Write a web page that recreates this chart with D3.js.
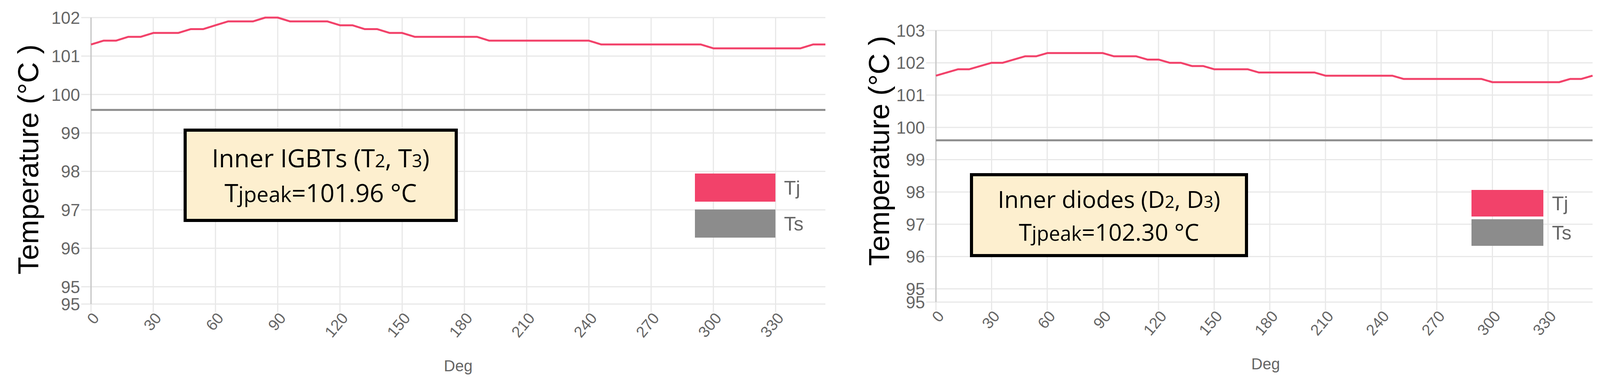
<!DOCTYPE html>
<html><head><meta charset="utf-8">
<script src="https://cdn.jsdelivr.net/npm/d3@7"></script>
<style>body{margin:0;background:#fff}svg{display:block}</style>
</head><body>
<svg id="c" width="4103" height="980"></svg>
<script>
const degrees = d3.range(0, 355, 6);
const tjLeft = [101.3,101.4,101.4,101.5,101.5,101.6,101.6,101.6,101.7,101.7,101.8,101.9,101.9,101.9,102.0,102.0,101.9,101.9,101.9,101.9,101.8,101.8,101.7,101.7,101.6,101.6,101.5,101.5,101.5,101.5,101.5,101.5,101.4,101.4,101.4,101.4,101.4,101.4,101.4,101.4,101.4,101.3,101.3,101.3,101.3,101.3,101.3,101.3,101.3,101.3,101.2,101.2,101.2,101.2,101.2,101.2,101.2,101.2,101.3,101.3];
const tsLeft = degrees.map(()=>99.6);
const tjRight = [101.6,101.7,101.8,101.8,101.9,102.0,102.0,102.1,102.2,102.2,102.3,102.3,102.3,102.3,102.3,102.3,102.2,102.2,102.2,102.1,102.1,102.0,102.0,101.9,101.9,101.8,101.8,101.8,101.8,101.7,101.7,101.7,101.7,101.7,101.7,101.6,101.6,101.6,101.6,101.6,101.6,101.6,101.5,101.5,101.5,101.5,101.5,101.5,101.5,101.5,101.4,101.4,101.4,101.4,101.4,101.4,101.4,101.5,101.5,101.6];
const tsRight = degrees.map(()=>99.6);
const xTicks = [0,30,60,90,120,150,180,210,240,270,300,330];
const yTicksLeft = [94.55,95,96,97,98,99,100,101,102];
const yTicksRight = [94.59,95,96,97,98,99,100,101,102,103];
const seriesNames = ["Tj","Ts"];
const colors = {Tj:"#f2426a", Ts:"#8c8c8c"};

const svg = d3.select("#c");

function panel(o){
  const g = svg.append("g");
  const x = d3.scaleLinear().domain([0,354]).range([o.x0,o.x1]);
  const y = d3.scaleLinear().domain(o.ydom).range([o.yb,o.yt]);
  // grid
  g.append("g").selectAll("line").data(o.yTicks).join("line")
    .attr("x1",o.x0-25).attr("x2",o.x1).attr("y1",d=>y(d)).attr("y2",d=>y(d))
    .attr("stroke","#e8e8e8").attr("stroke-width",3);
  g.append("g").selectAll("line").data(xTicks).join("line")
    .attr("x1",d=>x(d)).attr("x2",d=>x(d)).attr("y1",o.yt).attr("y2",o.yb+20)
    .attr("stroke","#e8e8e8").attr("stroke-width",3);
  g.append("line").attr("x1",o.x0).attr("x2",o.x0).attr("y1",o.yt).attr("y2",o.yb)
    .attr("stroke","#c4c4c4").attr("stroke-width",3);
  // y labels
  g.append("g").selectAll("text").data(o.yTicks).join("text")
    .attr("x",o.x0-28).attr("y",d=>y(d)).attr("dy","0.36em").attr("text-anchor","end")
    .attr("font-family","Liberation Sans Narrow, Liberation Sans, sans-serif").attr("font-size",44).attr("fill","#666")
    .text(d=>d3.format(".0f")(d));
  // x labels
  g.append("g").selectAll("text").data(xTicks).join("text")
    .attr("transform",d=>`translate(${x(d)+12},${o.yb+28}) rotate(-50)`)
    .attr("text-anchor","end").attr("dy","0.35em")
    .attr("font-family","Liberation Sans Narrow, Liberation Sans, sans-serif").attr("font-size",40).attr("fill","#666")
    .text(d=>d);
  g.append("text").attr("x",o.degX).attr("y",o.degY).attr("text-anchor","middle")
    .attr("font-family","Liberation Sans Narrow, Liberation Sans, sans-serif").attr("font-size",40).attr("fill","#666").text("Deg");
  g.append("text").attr("transform",`translate(${o.titleX},${o.titleY}) rotate(-90)`)
    .attr("text-anchor","middle").attr("dy","0.35em")
    .attr("font-family","Liberation Sans, Arial, sans-serif").attr("font-size",74).attr("fill","#000")
    .text("Temperature (°C )");
  // lines
  const line = d3.line().x((d,i)=>x(degrees[i])).y(d=>y(d));
  g.append("path").attr("d",line(o.ts)).attr("fill","none").attr("stroke",colors.Ts).attr("stroke-width",5);
  g.append("path").attr("d",line(o.tj)).attr("fill","none").attr("stroke",colors.Tj).attr("stroke-width",5).attr("stroke-linejoin","round");
  // annotation
  const b = o.box;
  g.append("rect").attr("x",b.x).attr("y",b.y).attr("width",b.w).attr("height",b.h)
    .attr("fill","#fdefcf").attr("stroke","#000").attr("stroke-width",8);
  const cx = b.x+b.w/2;
  const t1 = g.append("text").attr("x",cx).attr("y",b.l1).attr("text-anchor","middle")
    .attr("font-family","Open Sans, Liberation Sans, sans-serif").attr("font-size",b.fs).attr("fill","#000");
  b.parts.forEach(p=>t1.append("tspan").attr("font-size",p[1]?b.fs*0.72:b.fs).text(p[0]));
  const t2 = g.append("text").attr("x",cx).attr("y",b.l2).attr("text-anchor","middle")
    .attr("font-family","Open Sans, Liberation Sans, sans-serif").attr("font-size",b.fs).attr("fill","#000");
  t2.append("tspan").text("T");
  t2.append("tspan").attr("font-size",b.fs*0.85).text("jpeak");
  t2.append("tspan").text(b.peak);
  // legend
  const L = o.leg;
  seriesNames.forEach((s,i)=>{
    g.append("rect").attr("x",L.x).attr("y",L.y+i*L.dy).attr("width",L.w).attr("height",L.h).attr("fill",colors[s]);
    g.append("text").attr("x",L.x+L.w+22).attr("y",L.y+i*L.dy+L.h/2).attr("dy","0.35em")
      .attr("font-family","Liberation Sans Narrow, Liberation Sans, sans-serif").attr("font-size",50).attr("fill","#666").text(s);
  });
}

panel({x0:233,x1:2113,yt:45,yb:778,ydom:[94.55,102],yTicks:yTicksLeft,tj:tjLeft,ts:tsLeft,
  degX:1173,degY:950,titleX:72,titleY:408,
  box:{x:474,y:333,w:694,h:231,l1:428,l2:517,fs:64,peak:"=101.96 °C",
    parts:[["Inner IGBTs (T",0],["2",1],[", T",0],["3",1],[")",0]]},
  leg:{x:1779,y:444,w:206,h:72,dy:92}});
panel({x0:2396,x1:4077,yt:78,yb:773,ydom:[94.59,103],yTicks:yTicksRight,tj:tjRight,ts:tsRight,
  degX:3240,degY:945,titleX:2250,titleY:386,
  box:{x:2487,y:447,w:704,h:207,l1:532,l2:616,fs:60,peak:"=102.30 °C",
    parts:[["Inner diodes (D",0],["2",1],[", D",0],["3",1],[")",0]]},
  leg:{x:3767,y:486,w:184,h:68,dy:75}});
</script>
</body></html>
